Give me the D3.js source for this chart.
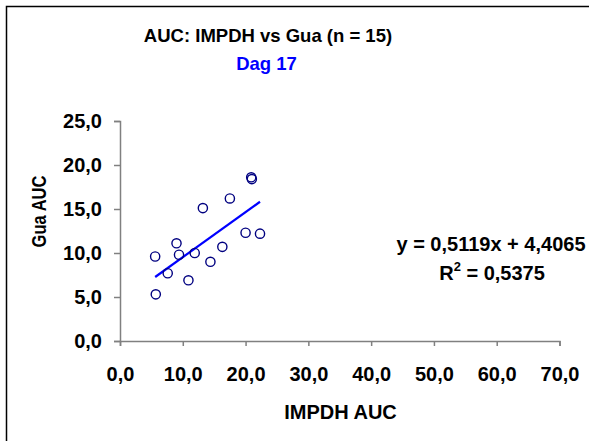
<!DOCTYPE html>
<html>
<head>
<meta charset="utf-8">
<script src="https://cdn.jsdelivr.net/npm/d3@7"></script>
<style>
  html, body { margin: 0; padding: 0; background: #fff; }
  svg { display: block; font-family: Arial, "Liberation Sans", sans-serif; }
</style>
</head>
<body>
<svg id="chart" width="589" height="441"></svg>
<script>
// IMPDH AUC (x) vs Gua AUC (y), day 17
const impdh = [5.6, 5.7, 7.6, 9.0, 9.4, 10.9, 11.9, 13.2, 14.4, 16.3, 17.5, 20.0, 20.9, 21.0, 22.3];
const gua   = [9.6, 5.3, 7.7, 11.1, 9.8, 6.9, 10.0, 15.1, 9.0, 10.7, 16.2, 12.3, 18.6, 18.4, 12.2];
const xTicks = [0, 10, 20, 30, 40, 50, 60, 70];
const yTicks = [0, 5, 10, 15, 20, 25];
const slope = 0.5119, intercept = 4.4065, r2 = 0.5375;

const fmt = v => d3.format(".1f")(v).replace(".", ",");
const dec = v => String(v).replace(".", ",");

const svg = d3.select("#chart");

// outer frame
svg.append("rect")
  .attr("x", 6.5).attr("y", 6.5)
  .attr("width", 600).attr("height", 460)
  .attr("fill", "none").attr("stroke", "#000").attr("stroke-width", 1.5);

const x = d3.scaleLinear().domain([0, 70]).range([120, 559.5]);
const y = d3.scaleLinear().domain([0, 25]).range([341, 121]);

// axes
const xAxis = svg.append("g").attr("transform", "translate(0,341)")
  .call(d3.axisBottom(x).tickValues(xTicks).tickFormat(fmt).tickSize(5).tickPadding(21));
const yAxis = svg.append("g").attr("transform", "translate(120,0)")
  .call(d3.axisLeft(y).tickValues(yTicks).tickFormat(fmt).tickSize(6).tickPadding(12));

[xAxis, yAxis].forEach(g => {
  g.select(".domain").attr("stroke", "#808080").attr("stroke-width", 1.5);
  g.selectAll(".tick line").attr("stroke", "#808080").attr("stroke-width", 1.5);
  g.selectAll(".tick text")
    .attr("font-family", "Arial, 'Liberation Sans', sans-serif")
    .attr("font-size", 20).attr("font-weight", "bold").attr("fill", "#000");
});

// trendline across the observed x range
const xr = d3.extent(impdh);
svg.append("line")
  .attr("x1", x(xr[0])).attr("y1", y(slope * xr[0] + intercept))
  .attr("x2", x(xr[1])).attr("y2", y(slope * xr[1] + intercept))
  .attr("stroke", "#0000ff").attr("stroke-width", 2.2);

// points
svg.append("g").selectAll("circle")
  .data(impdh.map((v, i) => [v, gua[i]]))
  .join("circle")
  .attr("cx", d => x(d[0])).attr("cy", d => y(d[1]))
  .attr("r", 4.6)
  .attr("fill", "none").attr("stroke", "#000080").attr("stroke-width", 1.4);

// titles
svg.append("text").attr("x", 268).attr("y", 41.7).attr("text-anchor", "middle")
  .attr("font-size", 18.5).attr("font-weight", "bold").attr("fill", "#000")
  .text("AUC: IMPDH vs Gua (n = 15)");
svg.append("text").attr("x", 266.5).attr("y", 70).attr("text-anchor", "middle")
  .attr("font-size", 18.5).attr("font-weight", "bold").attr("fill", "#0000ff")
  .text("Dag 17");

svg.append("text").attr("x", 340.5).attr("y", 419.3).attr("text-anchor", "middle")
  .attr("font-size", 20).attr("font-weight", "bold").attr("fill", "#000")
  .text("IMPDH AUC");
svg.append("text").attr("transform", "translate(45.7,211.5) rotate(-90) scale(1,1.2)")
  .attr("text-anchor", "middle")
  .attr("font-size", 16.5).attr("font-weight", "bold").attr("fill", "#000")
  .text("Gua AUC");

// regression annotation
svg.append("text").attr("x", 491).attr("y", 250.7).attr("text-anchor", "middle")
  .attr("font-size", 20).attr("font-weight", "bold").attr("fill", "#000")
  .text(`y = ${dec(slope)}x + ${dec(intercept)}`);
const r2t = svg.append("text").attr("x", 492).attr("y", 280).attr("text-anchor", "middle")
  .attr("font-size", 20).attr("font-weight", "bold").attr("fill", "#000");
r2t.append("tspan").text("R");
r2t.append("tspan").attr("dy", -9).attr("font-size", 13).text("2");
r2t.append("tspan").attr("dy", 9).text(` = ${dec(r2)}`);
</script>
</body>
</html>
